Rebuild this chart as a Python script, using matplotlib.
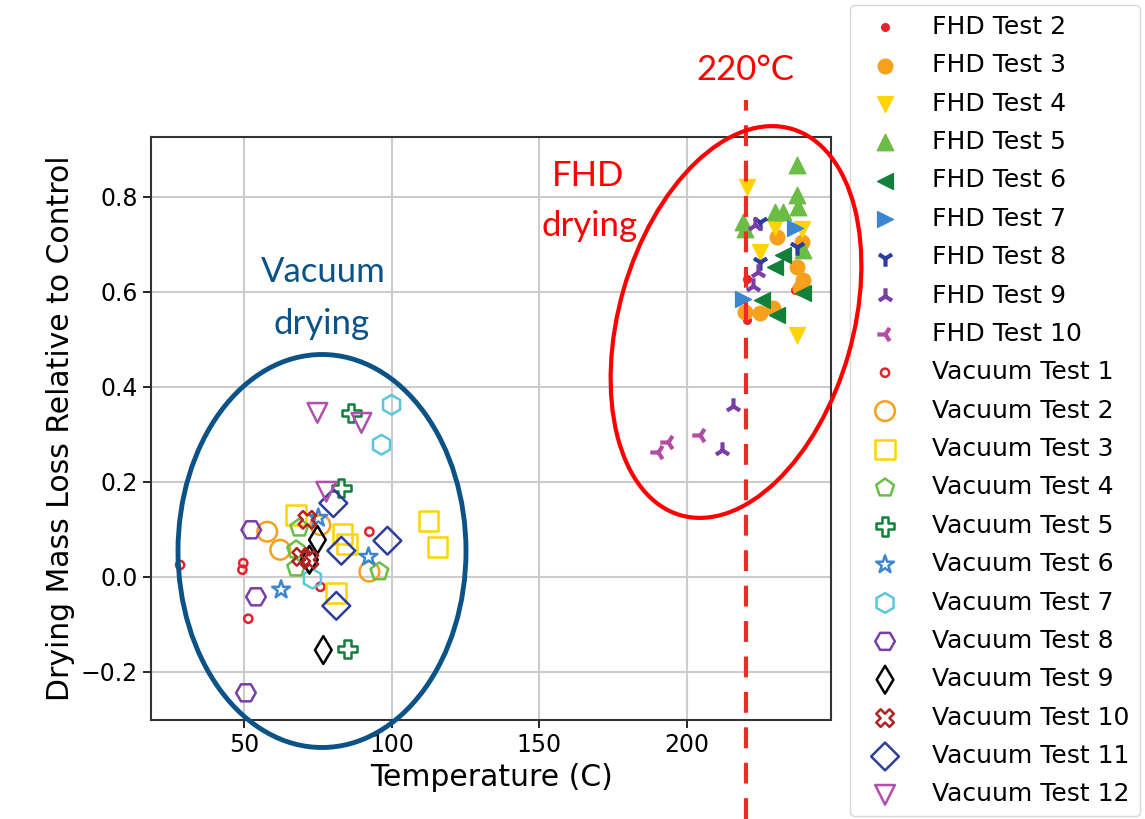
import matplotlib
matplotlib.use("Agg")
import matplotlib.pyplot as plt
from matplotlib.patches import Ellipse
from matplotlib.transforms import blended_transform_factory

# --- FHD data (temperature C, drying mass loss relative to control) ---
fhd2_x = [220.3, 236.6, 220.3]
fhd2_y = [0.627, 0.604, 0.541]
fhd3_x = [230.5, 239.0, 237.3, 239.3, 238.3, 219.6, 224.7, 229.2]
fhd3_y = [0.716, 0.705, 0.651, 0.625, 0.608, 0.558, 0.556, 0.566]
fhd4_x = [220.3, 229.9, 239.0, 224.7, 237.3]
fhd4_y = [0.821, 0.737, 0.731, 0.684, 0.509]
fhd5_x = [237.3, 237.3, 237.7, 229.9, 232.6, 219.0, 219.6, 239.3]
fhd5_y = [0.867, 0.804, 0.779, 0.768, 0.768, 0.747, 0.731, 0.688]
fhd6_x = [232.6, 229.9, 239.3, 225.4, 230.5]
fhd6_y = [0.678, 0.651, 0.598, 0.583, 0.552]
fhd7_x = [236.6, 219.0]
fhd7_y = [0.735, 0.585]
fhd8_x = [224.7, 237.3, 224.7]
fhd8_y = [0.747, 0.695, 0.663]
fhd9_x = [223.0, 224.0, 222.3, 211.8, 215.6]
fhd9_y = [0.741, 0.642, 0.611, 0.267, 0.360]
fhd10_x = [190.1, 193.5, 204.4]
fhd10_y = [0.263, 0.284, 0.299]

# --- Vacuum data ---
vac1_x = [28.3, 49.7, 49.4, 92.4, 75.8, 51.4]
vac1_y = [0.025, 0.029, 0.015, 0.095, -0.021, -0.088]
vac2_x = [57.8, 62.2, 75.8, 92.4]
vac2_y = [0.095, 0.057, 0.109, 0.011]
vac3_x = [67.6, 83.3, 84.9, 81.2, 112.4, 115.5]
vac3_y = [0.130, 0.090, 0.069, -0.034, 0.118, 0.063]
vac4_x = [68.7, 67.6, 67.6, 95.8]
vac4_y = [0.103, 0.057, 0.019, 0.011]
vac5_x = [86.3, 82.9, 85.0]
vac5_y = [0.345, 0.187, -0.152]
vac6_x = [75.1, 62.5, 92.1]
vac6_y = [0.124, -0.027, 0.042]
vac7_x = [99.9, 96.5, 73.1]
vac7_y = [0.362, 0.278, -0.004]
vac8_x = [52.4, 54.0, 50.6]
vac8_y = [0.099, -0.042, -0.244]
vac9_x = [74.8, 72.1, 76.8]
vac9_y = [0.078, 0.036, -0.154]
vac10_x = [71.4, 69.3, 72.1]
vac10_y = [0.120, 0.042, 0.036]
vac11_x = [80.2, 82.9, 98.5, 81.2]
vac11_y = [0.155, 0.055, 0.076, -0.061]
vac12_x = [74.8, 89.7, 77.8]
vac12_y = [0.345, 0.324, 0.179]

# (label, x, y, marker, color, size, filled)
series = [
    ("FHD Test 2", fhd2_x, fhd2_y, ".", "#e8202a", 120, True),
    ("FHD Test 3", fhd3_x, fhd3_y, "o", "#f7a01c", 110, True),
    ("FHD Test 4", fhd4_x, fhd4_y, "v", "#ffd400", 130, True),
    ("FHD Test 5", fhd5_x, fhd5_y, "^", "#6cbd45", 140, True),
    ("FHD Test 6", fhd6_x, fhd6_y, "<", "#12803a", 130, True),
    ("FHD Test 7", fhd7_x, fhd7_y, ">", "#3c86d0", 130, True),
    ("FHD Test 8", fhd8_x, fhd8_y, "1", "#2d3d9c", 140, True),
    ("FHD Test 9", fhd9_x, fhd9_y, "2", "#7a3fa6", 140, True),
    ("FHD Test 10", fhd10_x, fhd10_y, "3", "#b44ca6", 140, True),
    ("Vacuum Test 1", vac1_x, vac1_y, "o", "#e8202a", 35, False),
    ("Vacuum Test 2", vac2_x, vac2_y, "o", "#f7a01c", 200, False),
    ("Vacuum Test 3", vac3_x, vac3_y, "s", "#ffd400", 200, False),
    ("Vacuum Test 4", vac4_x, vac4_y, "p", "#6cbd45", 180, False),
    ("Vacuum Test 5", vac5_x, vac5_y, "P", "#12803a", 180, False),
    ("Vacuum Test 6", vac6_x, vac6_y, "*", "#3c86d0", 180, False),
    ("Vacuum Test 7", vac7_x, vac7_y, "h", "#5bc6dc", 200, False),
    ("Vacuum Test 8", vac8_x, vac8_y, "H", "#7a3fa6", 200, False),
    ("Vacuum Test 9", vac9_x, vac9_y, "d", "black", 200, False),
    ("Vacuum Test 10", vac10_x, vac10_y, "X", "#b22222", 160, False),
    ("Vacuum Test 11", vac11_x, vac11_y, "D", "#2d3d9c", 200, False),
    ("Vacuum Test 12", vac12_x, vac12_y, "v", "#b04fae", 200, False),
]

fig = plt.figure(figsize=(11.45, 8.19), dpi=100)
ax = fig.add_axes([0.132, 0.121, 0.594, 0.712])

for label, xs, ys, m, c, s, filled in series:
    if m in ("1", "2", "3"):
        ax.scatter(xs, ys, marker=m, s=s, color=c, linewidths=3, label=label)
    elif filled:
        ax.scatter(xs, ys, marker=m, s=s, color=c, label=label)
    else:
        ax.scatter(xs, ys, marker=m, s=s, facecolors="none", edgecolors=c,
                   linewidths=1.8, label=label)

ax.set_xlim(18.5, 248.8)
ax.set_ylim(-0.301, 0.926)
ax.set_xticks([50, 100, 150, 200])
ax.set_yticks([-0.2, 0.0, 0.2, 0.4, 0.6, 0.8])
ax.grid(True, color="#cccccc", linewidth=1.5)
ax.set_axisbelow(True)
ax.tick_params(labelsize=17, length=6, width=1.2)
for sp in ax.spines.values():
    sp.set_linewidth(1.5)
    sp.set_color("#333333")
ax.set_xlabel("Temperature (C)", fontsize=21.5)
ax.set_ylabel("Drying Mass Loss Relative to Control", fontsize=21.5)

ax.legend(loc="upper left", bbox_to_anchor=(0.7424, 0.994), bbox_transform=fig.transFigure,
          fontsize=18, labelspacing=0.575, handlelength=2.0, handletextpad=0.88,
          borderpad=0.4, borderaxespad=0, scatterpoints=1, frameon=True,
          edgecolor="#cccccc")

# 220 C marker line, running past the axes top
trans = blended_transform_factory(ax.transData, ax.transAxes)
ax.plot([220, 220], [-0.17, 1.063], transform=trans, clip_on=False, color="#ee2a24",
        linewidth=3, linestyle=(0, (5, 3.5)), zorder=5)

# annotation overlay in pixel coordinates
ov = fig.add_axes([0, 0, 1, 1], zorder=10)
ov.set_xlim(0, 1145)
ov.set_ylim(819, 0)
ov.axis("off")
ov.patch.set_alpha(0)

ov.add_patch(Ellipse((736, 322), 234, 402, angle=16, fill=False, edgecolor="#ff0000", linewidth=3))
ov.add_patch(Ellipse((322, 551), 288, 393, angle=0, fill=False, edgecolor="#0b5286", linewidth=3.5))

ov.text(745, 70, "220°C", color="#ff0000", fontsize=25, family="Lato", ha="center", va="center")
ov.text(588, 176, "FHD", color="#ff0000", fontsize=25, family="Lato", ha="center", va="center")
ov.text(590, 226, "drying", color="#ff0000", fontsize=25, family="Lato", ha="center", va="center")
ov.text(323, 272, "Vacuum", color="#0b5286", fontsize=25, family="Lato", ha="center", va="center")
ov.text(322, 324, "drying", color="#0b5286", fontsize=25, family="Lato", ha="center", va="center")

fig.savefig("out.png", dpi=100)
